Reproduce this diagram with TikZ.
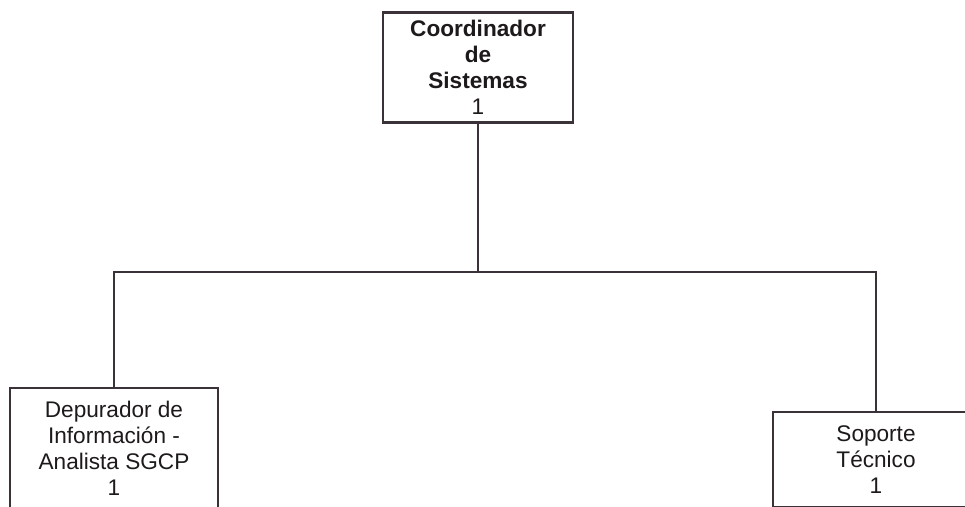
\documentclass[tikz,border=0pt]{standalone}
\usepackage{fontspec}
\setmainfont{Liberation Sans}
\definecolor{linegray}{HTML}{3A3238}
\definecolor{inkdark}{HTML}{1E1A1C}
\begin{document}
\begin{tikzpicture}[x=1pt,y=-1pt,
  orgbox/.style={draw=linegray, line width=2.6pt, fill=white, rectangle,
    align=center, inner sep=0pt, text=inkdark,
    font=\fontsize{22.6}{26}\selectfont},
  link/.style={draw=linegray, line width=2.6pt}]
\useasboundingbox (0,0) rectangle (965,506);
\clip (0,0) rectangle (965,506);
\fill[white] (0,0) rectangle (965,506);

% head of the unit
\node[orgbox, minimum width=190pt, minimum height=110pt] (coord) at (478,67.7)
  {\textbf{Coordinador}\\\textbf{de}\\\textbf{Sistemas}\\1};

% subordinate positions
\node[orgbox, minimum width=208pt, minimum height=121pt] (dep) at (114,448.5)
  {Depurador de\\Información -\\Analista SGCP\\1};
\node[orgbox, minimum width=206pt, minimum height=95pt] (sop) at (876,459.5)
  {Soporte\\Técnico\\1};

% reporting lines
\coordinate (bus) at (478,272);
\draw[link] (coord.south) -- (bus);
\draw[link] (dep.north) |- (bus) -| (sop.north);
\end{tikzpicture}
\end{document}
